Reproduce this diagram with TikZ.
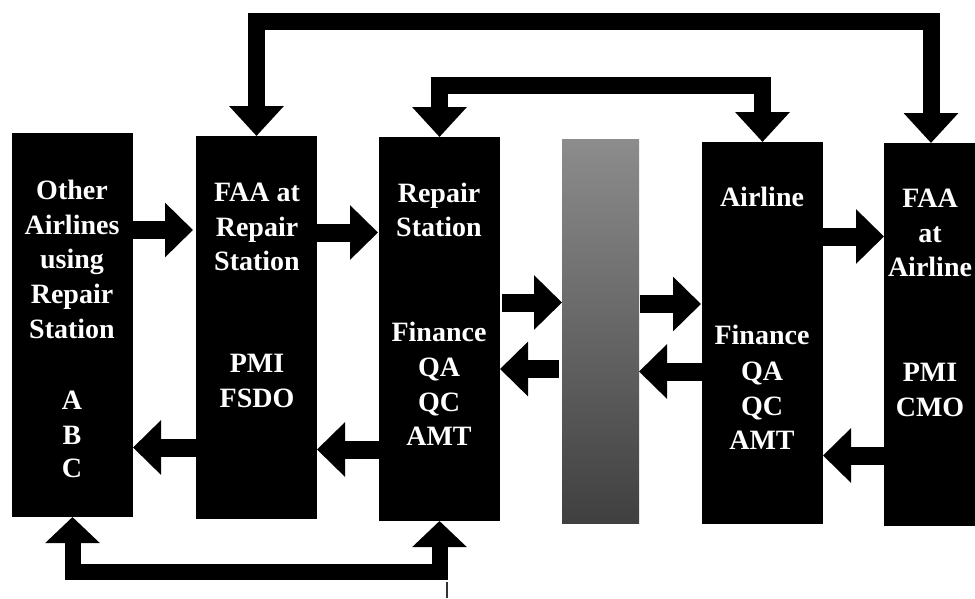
\documentclass[tikz,border=0pt]{standalone}
\usepackage{fontspec}
\setmainfont{Liberation Serif}
\usetikzlibrary{arrows.meta}
\begin{document}
\begin{tikzpicture}[x=1pt,y=-1pt,
  box/.style={fill=black, draw=none, inner sep=0pt, outer sep=0pt, minimum width=121pt},
  txt/.style={text=white, font=\fontsize{28}{33}\selectfont\bfseries, anchor=base, inner sep=0pt},
  side/.style={line width=18pt, -{Triangle[width=53pt,length=28pt]}},
  loopa/.style={line width=17pt, line join=miter, {Triangle[width=53pt,length=30pt]}-{Triangle[width=53pt,length=30pt]}},
  loopb/.style={line width=16pt, line join=miter, {Triangle[width=53pt,length=26pt]}-{Triangle[width=53pt,length=26pt]}},
  hair/.style={line width=1.5pt, draw=black!80}]
\useasboundingbox (0,0) rectangle (975,598);
\clip (0,0) rectangle (975,598);
\fill[white] (0,0) rectangle (975,598);

% boxes
\node[box, minimum height=384pt] (b1) at (72.5,325) {};
\node[box, minimum height=383pt] (b2) at (256.5,327.5) {};
\node[box, minimum height=384pt] (b3) at (439.5,329) {};
\node[box, minimum width=77pt, minimum height=384pt, fill=none, top color=black!45, bottom color=black!75] (g) at (600.5,331) {};
\node[box, minimum height=382pt] (b5) at (762.5,333) {};
\node[box, minimum width=94pt, minimum height=383pt] (b6) at (931,334.5) {};

% texts
\node[txt] (t11) at (72,199) {Other};
\node[txt] (t12) at (72,234) {Airlines};
\node[txt] (t13) at (72,268) {using};
\node[txt] (t14) at (72,303) {Repair};
\node[txt] (t15) at (72,338) {Station};
\node[txt] (t16) at (72,409) {A};
\node[txt] (t17) at (72,444) {B};
\node[txt] (t18) at (72,477) {C};

\node[txt] (t21) at (257,201) {FAA at};
\node[txt] (t22) at (257,236) {Repair};
\node[txt] (t23) at (257,270) {Station};
\node[txt] (t24) at (257,372) {PMI};
\node[txt] (t25) at (257,407) {FSDO};

\node[txt] (t31) at (439,202) {Repair};
\node[txt] (t32) at (439,236) {Station};
\node[txt] (t33) at (439,341) {Finance};
\node[txt] (t34) at (439,376) {QA};
\node[txt] (t35) at (439,411) {QC};
\node[txt] (t36) at (439,445) {AMT};

\node[txt] (t51) at (762,206) {Airline};
\node[txt] (t52) at (762,344) {Finance};
\node[txt] (t53) at (762,380) {QA};
\node[txt] (t54) at (762,415) {QC};
\node[txt] (t55) at (762,449) {AMT};

\node[txt] (t61) at (930,207) {FAA};
\node[txt] (t62) at (930,242) {at};
\node[txt] (t63) at (930,276) {Airline};
\node[txt] (t64) at (930,381) {PMI};
\node[txt] (t65) at (930,416) {CMO};

% helper heights
\coordinate (h12) at (0,230);
\coordinate (h23) at (0,232.5);
\coordinate (h21) at (0,447.5);
\coordinate (h32) at (0,449.5);
\coordinate (h3g) at (0,302.5);
\coordinate (hg5) at (0,304);
\coordinate (hg3) at (0,369);
\coordinate (h5g) at (0,371.5);
\coordinate (h56) at (0,236.5);
\coordinate (h65) at (0,455.5);
\coordinate (o1) at (0,21);
\coordinate (o2) at (0,85);
\coordinate (o3) at (0,572);

% side arrows
\draw[side, shorten >=3pt] (b1.east |- h12) -- (b2.west |- h12);
\draw[side, shorten >=1pt] (b2.east |- h23) -- (b3.west |- h23);
\draw[side] (b2.west |- h21) -- (b1.east |- h21);
\draw[side] (b3.west |- h32) -- (b2.east |- h32);
\draw[side, shorten <=2pt] (b3.east |- h3g) -- (g.west |- h3g);
\draw[side, shorten <=1pt, shorten >=1pt] (g.east |- hg5) -- (b5.west |- hg5);
\draw[side, shorten <=3pt] (g.west |- hg3) -- (b3.east |- hg3);
\draw[side] (b5.west |- h5g) -- (g.east |- h5g);
\draw[side] (b5.east |- h56) -- (b6.west |- h56);
\draw[side] (b6.west |- h65) -- (b5.east |- h65);

% elbow connectors
\draw[loopa] (b2.north) -- (b2.north |- o1) -| (b6.north);
\draw[loopa] (b3.north) -- (b3.north |- o2) -| (b5.north);
\draw[loopb] (b1.south) -- (b1.south |- o3) -| (b3.south);

% stray hairline
\coordinate (s1) at (447,582);
\coordinate (s2) at (447,598);
\draw[hair] (s1) -- (s2);
\end{tikzpicture}
\end{document}
